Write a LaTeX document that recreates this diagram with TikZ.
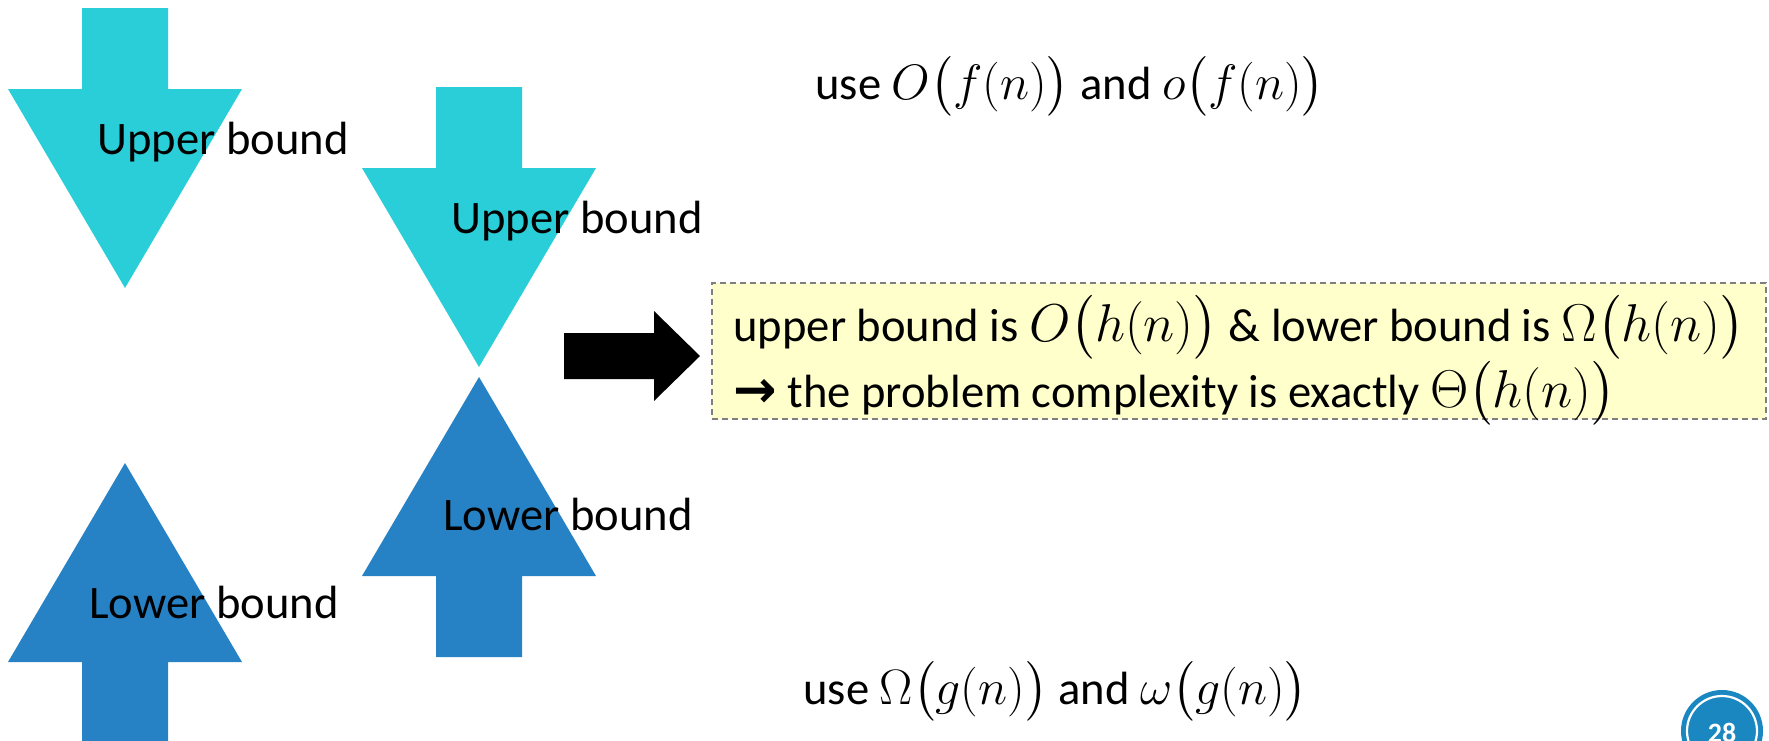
\documentclass[tikz,border=0pt]{standalone}
\usepackage{amsmath}
\usepackage{graphicx}
\usepackage{fontspec}
\setmainfont{Carlito}
\newfontfamily\dvsfont{DejaVu Sans}
\definecolor{ubcyan}{HTML}{2ACED8}
\definecolor{lbblue}{HTML}{2782C5}
\definecolor{boxyellow}{HTML}{FFFFCC}
\definecolor{boxgray}{HTML}{7F7F7F}
\definecolor{pageblue}{HTML}{1B87C1}
\newcommand{\boxmath}[1]{\scalebox{1.07}{$#1$}}
\begin{document}
\begin{tikzpicture}[x=0.5pt,y=-0.5pt,
  lbl/.style={anchor=base west, inner sep=0pt, font=\fontsize{23.3}{28}\selectfont},
  uparrowfill/.style={fill=ubcyan, draw=none},
  lowarrowfill/.style={fill=lbblue, draw=none},
  concbox/.style={draw=boxgray, fill=boxyellow, line width=0.8pt, dash pattern=on 3pt off 2pt,
    minimum width=527pt, minimum height=68pt, inner sep=0pt, anchor=north west}]
\useasboundingbox (0,0) rectangle (1769,740);

% cyan down arrows
\fill[uparrowfill] (82,8) -- (168,8) -- (168,89) -- (242,89) -- (125,288) -- (8,89) -- (82,89) -- cycle;
\fill[uparrowfill] (436,87) -- (522,87) -- (522,168) -- (596,168) -- (479,367) -- (362,168) -- (436,168) -- cycle;
% blue up arrows
\fill[lowarrowfill] (125,463) -- (242,662) -- (168,662) -- (168,750) -- (82,750) -- (82,662) -- (8,662) -- cycle;
\fill[lowarrowfill] (479,377) -- (596,576) -- (522,576) -- (522,657) -- (436,657) -- (436,576) -- (362,576) -- cycle;

\node[lbl] (ub1) at (97,154) {Upper bound};
\node[lbl] (ub2) at (451,233) {Upper bound};
\node[lbl] (lb1) at (89,618) {Lower bound};
\node[lbl] (lb2) at (443,530) {Lower bound};

% black block arrow
\fill[black] (564,333) -- (654,333) -- (654,311) -- (700,356) -- (654,401) -- (654,379) -- (564,379) -- cycle;

% conclusion box
\node[concbox] (concl) at (711,282) {};
\node[lbl] (l1) at (733,341) {upper bound is \boxmath{O\big(h(n)\big)} \& lower bound is \boxmath{\Omega\big(h(n)\big)}};
\node[lbl] (l2) at (733,407) {{\dvsfont\bfseries\fontsize{26}{28}\selectfont →} the problem complexity is exactly \boxmath{\Theta\big(h(n)\big)}};

\node[lbl] (useO) at (815,99) {use $O\big(f(n)\big)$ and $o\big(f(n)\big)$};
\node[lbl] (useW) at (803,704) {use $\Omega\big(g(n)\big)$ and $\omega\big(g(n)\big)$};

% page number
\fill[pageblue] (1722,731) circle[radius=20.5pt];
\draw[white, line width=1.1pt] (1722,731) circle[radius=17.5pt];
\node[anchor=base, inner sep=0pt, text=white, font=\fontsize{14}{16}\selectfont\bfseries] (pg) at (1722,742) {28};
\end{tikzpicture}
\end{document}
